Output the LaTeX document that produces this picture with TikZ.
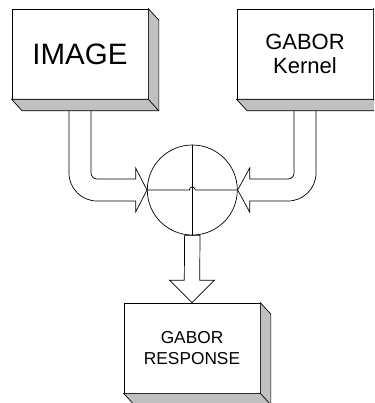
\documentclass[tikz,border=0pt]{standalone}
\usepackage{fontspec}
\setmainfont{Liberation Sans}
\usetikzlibrary{calc}
\definecolor{shadowgray}{RGB}{192,192,192}

% raised block: white front face plus a grey bevel to the lower right
\newcommand\dropshade[1]{%
  \filldraw[fill=shadowgray] (#1.north east) -- ++(10.5,11.5)
    -- ($(#1.south east)+(10.5,11.5)$) -- ($(#1.south west)+(10.5,11.5)$)
    -- (#1.south west) -- (#1.south east) -- cycle;
  \draw (#1.south east) -- ++(10.5,11.5);}

\begin{document}
\begin{tikzpicture}[x=1pt,y=-1pt,line width=0.7pt,line join=miter,
  front/.style={draw,fill=white,minimum width=136pt,minimum height=90pt,
    inner sep=0pt,align=center},
  pipe/.style={draw,line width=0.7pt}]
\clip (0,0) rectangle (374,403);

% blocks
\node[front,font=\fontsize{29.5}{32}\selectfont] (img) at (80,54) {IMAGE};
\node[front,font=\fontsize{22}{23.3}\selectfont] (ker) at (305,54) {GABOR\\Kernel};
\node[front,font=\fontsize{17.3}{21}\selectfont] (res) at (192,348) {GABOR\\RESPONSE};
\dropshade{img}
\dropshade{ker}
\dropshade{res}

% summing junction
\node[draw,circle,minimum size=90pt,inner sep=0pt] (sum) at (192.3,190) {};
\draw (sum.north) -- (sum.south);
\draw (sum.west) -- ($(sum.center)+(-3,0)$)
  arc[start angle=180,end angle=360,radius=3] -- (sum.east);

% feed points under each bevel and bend levels
\coordinate (imgout) at ($(img.south)+(0,11.5)$);
\coordinate (kerout) at ($(ker.south)+(0,11.5)$);
\coordinate (lo) at ($(imgout)+(-11,0)$);
\coordinate (li) at ($(imgout)+(11,0)$);
\coordinate (ro) at ($(kerout)+(11,0)$);
\coordinate (ri) at ($(kerout)+(-11,0)$);
\coordinate (lbend) at ($(sum.west)+(0,-17)$);
\coordinate (rbend) at ($(sum.east)+(0,-17)$);

% bent block arrow from IMAGE
\draw[pipe] (lo) -- (lo |- lbend) arc[start angle=180,end angle=90,radius=28]
  -- ($(sum.west)+(-11.3,11)$) -- ++(0,11) -- (sum.west)
  -- ($(sum.west)+(-11.3,-22)$) -- ++(0,11)
  -- ($(li |- lbend)+(6,6)$) arc[start angle=90,end angle=180,radius=6] -- (li);

% bent block arrow from GABOR Kernel
\draw[pipe] (ro) -- (ro |- rbend) arc[start angle=0,end angle=90,radius=28]
  -- ($(sum.east)+(12,11)$) -- ++(0,11) -- (sum.east)
  -- ($(sum.east)+(12,-22)$) -- ++(0,11)
  -- ($(ri |- rbend)+(-6,6)$) arc[start angle=90,end angle=0,radius=6] -- (ri);

% block arrow down to GABOR RESPONSE
\draw[pipe] ($(sum.south)+(-7.7,0)$) -- ($(res.north)+(-7.7,-22.5)$)
  -- ++(-14.8,0) -- (res.north) -- ($(res.north)+(22.5,-22.5)$)
  -- ++(-14.8,0) -- ($(sum.south)+(7.7,0)$) -- cycle;
\end{tikzpicture}
\end{document}
